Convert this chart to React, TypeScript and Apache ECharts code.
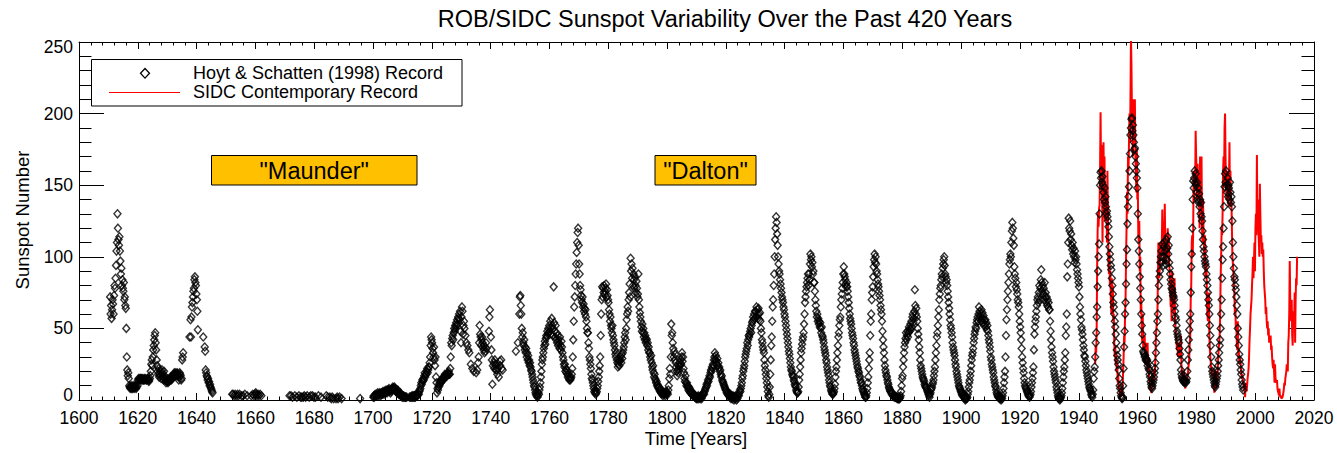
import React, { useEffect, useRef } from "react";
import * as echarts from "echarts";

const N = null;

// Hoyt & Schatten (1998) record: six readings per year, one array per decade (first value = start of decade)
const hs1610 = [
  N, N, N, 72, 60, 66,
  57, 63, 70, 67, 60, 73,
  80, 78, 85, 94, 104, 110,
  130, 120, 112, 108, 114, 104,
  97, 88, 92, 80, 84, 78,
  76, 82, 70, 72, 66, 64,
  50, 30, 21, 17, 19, 15,
  10, 9, 8, 9, 10, 8,
  9, 8, 10, 9, 8, 10,
  9, 10, 8, 9, N, 10,
];
const hs1620 = [
  14, 15, 14, 15, 14, 15,
  15, 14, 15, 14, 15, 14,
  14, 15, 14, 15, N, 14,
  14, 15, 15, 14, 13, 14,
  15, 17, 20, 25, 28, 24,
  30, 35, 38, 42, 45, 47,
  40, 35, 28, 24, 20, 18,
  22, 16, 18, 20, 17, 15,
  18, 21, 19, 16, 14, 20,
  17, 15, 14, 12, 13, 15,
];
const hs1630 = [
  13, 12, 14, 13, 15, 14,
  16, 15, 14, 16, 15, 17,
  17, 18, 19, 18, 17, 19,
  18, 17, 19, 18, 17, 14,
  16, 19, 18, 17, 14, 15,
  28, 30, 33, N, N, N,
  N, N, N, N, N, N,
  N, N, N, 44, N, 56,
  44, 58, 65, 68, 72, 76,
  78, 84, 86, 82, 80, 74,
];
const hs1640 = [
  70, 62, 49, N, N, N,
  N, N, N, N, N, N,
  N, 44, N, N, 37, 34,
  21, 19, 17, 16, 14, 15,
  12, 13, 10, 11, 9, 8,
  7, 6, 5, N, N, N,
];
// Maunder minimum: sparse [year, value] readings
const hsMaunder = [
  [1652.1, 4], [1652.4, 4], [1652.8, 3], [1653.1, 4], [1653.5, 3], [1653.9, 4], [1654.2, 3], [1654.6, 4],
  [1655.3, 3], [1655.8, 3], [1656.4, 4], [1657.2, 3], [1658.6, 3], [1659.1, 4], [1659.5, 3], [1659.8, 4],
  [1660.1, 5], [1660.3, 4], [1660.5, 3], [1660.9, 4], [1661.2, 3], [1661.6, 4], [1662.0, 3],
  [1671.6, 3], [1672.1, 3], [1672.6, 2], [1673.4, 3], [1674.1, 2], [1674.8, 3], [1675.4, 2], [1675.8, 2],
  [1676.3, 2], [1676.6, 3], [1677.1, 2], [1677.6, 3], [1678.3, 2], [1678.8, 3], [1679.4, 3], [1679.9, 2],
  [1680.4, 2], [1681.4, 3], [1682.3, 2], [1684.1, 3], [1684.6, 2], [1685.3, 2], [1685.8, 1], [1686.1, 2],
  [1686.6, 1], [1687.4, 1], [1687.8, 2], [1688.1, 1], [1688.6, 2], [1689.3, 1], [1695.6, 1],
];
const hs1700 = [
  2, 3, 2, 3, 4, 3,
  3, 4, 3, 5, 4, 3,
  4, 5, 4, 3, 5, 4,
  5, 4, 6, 5, 4, 6,
  6, 5, 7, 6, 5, 7,
  6, 7, 8, 6, 7, 5,
  7, 6, 8, 7, 9, 8,
  8, 9, 7, 8, 6, 7,
  6, 5, 7, 6, 4, 5,
  4, 5, 3, 4, 3, 2,
];
const hs1710 = [
  3, 2, 3, 2, N, 2,
  2, N, 2, N, N, N,
  N, N, 2, N, 2, N,
  2, 3, 2, 3, 2, 3,
  2, 3, 2, 4, 3, 3,
  3, 4, 5, 4, 6, 7,
  8, 10, 12, 11, 14, 13,
  15, 14, 17, 19, 16, 18,
  18, 20, 22, 19, 21, 23,
  23, 26, 30, 38, 44, 42,
];
const hs1720 = [
  40, 36, 33, 30, 37, 28,
  24, 30, 16, 12, 5, 8,
  7, 9, 11, 10, 12, 13,
  12, 14, 13, 15, 14, 16,
  15, 16, 18, 17, 16, 18,
  18, 17, 19, 18, 20, 18,
  18, 22, 30, 40, 38, 43,
  45, 42, 47, 50, 48, 52,
  50, 54, 52, 56, 53, 58,
  57, 60, 56, 62, 48, 40,
];
const hs1730 = [
  58, 65, 62, 46, 52, 55,
  50, N, 45, N, 40, N,
  38, N, 35, N, 33, N,
  N, 25, N, N, 22, N,
  N, 20, N, N, N, N,
  19, N, 21, N, 26, 30,
  40, 52, 46, 44, 38, 42,
  44, 40, 37, 35, 38, 33,
  37, 34, 40, 36, N, N,
  N, N, 48, 58, 63, N,
];
const hs1740 = [
  44, 35, 28, 11, 24, N,
  26, 22, 28, 24, 21, 25,
  21, 18, 22, N, 16, N,
  27, 24, N, 28, 22, N,
  21, N, N, N, N, N,
  N, N, N, N, N, N,
  N, N, N, N, N, N,
  N, N, N, N, N, N,
  N, N, N, 34, N, N,
  N, 40, N, N, 60, 72,
];
const hs1750 = [
  73, 66, 60, 50, 44, 47,
  40, 38, 42, 35, 37, 33,
  36, 30, 33, 28, 31, 26,
  28, 24, 26, 23, 21, 20,
  18, 16, 14, 12, 10, 9,
  7, 5, 4, 3, 4, 2,
  3, 5, 4, 7, 9, 12,
  16, 20, 25, 28, 30, 33,
  36, 38, 41, 39, 43, 45,
  44, 48, 46, 50, 47, 52,
];
const hs1760 = [
  48, 55, 50, 46, 57, 52,
  45, 50, 79, 54, 48, 44,
  52, 42, 47, 40, 45, 38,
  42, 40, 36, 44, 38, 35,
  41, 37, 33, 30, 28, 25,
  23, 25, 20, 22, 19, 21,
  18, 16, 18, 15, 14, 16,
  14, 15, 16, 18, 22, 30,
  42, 55, 65, 72, 80, 88,
  95, 103, 110, 117, 120, 108,
];
const hs1770 = [
  95, 88, 80, 77, 73, 70,
  68, 72, 65, 67, 62, 64,
  60, 63, 58, 55, 50, 47,
  47, 40, 36, 30, 28, 25,
  22, 18, 15, 14, 12, 10,
  8, 6, 5, 7, 4, 5,
  6, 8, 10, 13, 16, 20,
  24, 30, 45, 60, 70, 79,
  72, 78, 75, 80, 74, 76,
  78, 81, 72, 77, 73, 70,
];
const hs1780 = [
  68, 63, 60, 55, 58, 52,
  50, 47, 52, 45, 42, 40,
  38, 35, 32, 30, 33, 28,
  26, 23, 25, 28, 24, 27,
  28, 30, 26, 32, 29, 33,
  35, 37, 40, 44, 47, 42,
  50, 56, 60, 65, 62, 70,
  75, 81, 72, 99, 90, 95,
  85, 92, 80, 88, 84, 78,
  86, 80, 75, 83, 78, 72,
];
const hs1790 = [
  74, 88, 70, 65, 61, 58,
  55, 51, 48, 53, 47, 50,
  44, 47, 42, 45, 40, 43,
  42, 38, 40, 35, 37, 33,
  33, 30, 28, 31, 26, 23,
  21, 24, 19, 16, 18, 15,
  14, 12, 13, 10, 11, 9,
  8, 9, 7, 6, 8, 5,
  5, 4, 6, 3, 5, 4,
  4, 5, 3, 6, 4, 5,
];
const hs1800 = [
  5, 4, 7, 10, 15, 22,
  18, 30, 53, 45, 47, 40,
  36, 30, 34, 28, 32, 26,
  23, 20, 17, 21, 19, 24,
  22, 26, 24, 28, 25, 30,
  33, 27, 30, 22, 19, 15,
  13, 17, 12, 10, 12, 9,
  10, 7, 9, 6, 8, 5,
  5, 6, 4, 5, 3, 4,
  3, 4, 2, 3, 2, 1,
];
const hs1810 = [
  2, 1, 2, 3, 1, 2,
  2, 1, 3, 2, 1, 3,
  3, 4, 5, 4, 6, 7,
  8, 9, 11, 10, 12, 14,
  13, 15, 17, 16, 19, 21,
  20, 23, 22, 25, 24, 28,
  30, 33, 28, 31, 27, 25,
  29, 24, 26, 22, 23, 20,
  21, 18, 16, 17, 14, 13,
  12, 11, 10, 9, 8, 7,
];
const hs1820 = [
  7, 5, 6, 4, 5, 3,
  4, 3, 2, 4, 1, 3,
  2, 1, 3, 2, 0, 2,
  1, 3, 2, 0, 2, 1,
  3, 4, 3, 5, 7, 6,
  8, 10, 12, 15, 17, 20,
  22, 24, 27, 30, 32, 34,
  36, 40, 38, 42, 45, 44,
  46, 48, 50, 47, 52, 54,
  55, 58, 56, 60, 57, 62,
];
const hs1830 = [
  62, 58, 65, 60, 63, 57,
  64, 60, 56, 61, 55, 50,
  47, 42, 40, 37, 35, 33,
  28, 24, 21, 18, 15, 12,
  9, 6, 3, 2, 4, 9,
  18, 28, 38, 44, 55, 65,
  70, 80, 88, 100, 112, 120,
  128, 124, 116, 108, 100, 95,
  90, 88, 84, 81, 78, 75,
  72, 70, 68, 65, 63, 60,
];
const hs1840 = [
  58, 55, 52, 49, 46, 43,
  40, 37, 34, 32, 29, 26,
  23, 21, 20, 18, 17, 16,
  14, 13, 11, 10, 9, 7,
  6, 5, 5, 6, 9, 14,
  18, 23, 28, 33, 36, 39,
  42, 44, 47, 53, 60, 68,
  72, 76, 79, 82, 85, 88,
  80, 88, 84, 95, 102, 98,
  100, 93, 96, 88, 90, 82,
];
const hs1850 = [
  82, 76, 70, 66, 62, 58,
  60, 55, 57, 53, 55, 51,
  54, 50, 47, 51, 45, 44,
  42, 40, 37, 35, 33, 31,
  28, 26, 23, 21, 19, 17,
  14, 12, 10, 9, 7, 6,
  5, 4, 4, 5, 6, 8,
  11, 16, 20, 23, 28, 33,
  38, 44, 47, 52, 56, 58,
  65, 70, 74, 78, 82, 88,
];
const hs1860 = [
  93, 88, 86, 84, 81, 79,
  82, 79, 76, 72, 68, 64,
  60, 57, 55, 53, 50, 47,
  45, 43, 40, 38, 35, 33,
  31, 29, 27, 25, 23, 22,
  20, 19, 17, 16, 14, 12,
  12, 10, 8, 7, 6, 5,
  4, 3, 2, 2, 3, 5,
  8, 12, 16, 22, 28, 33,
  45, 55, 60, 70, 75, 79,
];
const hs1870 = [
  86, 93, 98, 102, 96, 100,
  95, 90, 88, 84, 81, 79,
  76, 73, 70, 66, 63, 60,
  55, 48, 42, 37, 33, 28,
  24, 21, 19, 17, 16, 14,
  12, 11, 9, 8, 7, 6,
  6, 5, 4, 5, 3, 3,
  3, 2, 3, 2, 2, 2,
  2, 1, 2, 1, 1, 1,
  1, 2, 3, 6, 10, 15,
];
const hs1880 = [
  17, 23, 28, 33, 37, 40,
  43, 47, 42, 45, 48, 44,
  47, 51, 48, 50, 53, 49,
  55, 51, 58, 60, 54, 57,
  62, 77, 66, 60, 64, 58,
  55, 50, 46, 42, 37, 33,
  28, 24, 22, 20, 18, 16,
  15, 14, 13, 11, 10, 9,
  9, 8, 7, 6, 5, 4,
  3, 2, 4, 5, 7, 8,
];
const hs1890 = [
  9, 11, 12, 14, 17, 20,
  23, 28, 33, 38, 44, 47,
  52, 58, 63, 70, 74, 78,
  80, 84, 88, 86, 92, 95,
  98, 100, 94, 88, 86, 82,
  84, 80, 76, 72, 68, 64,
  60, 56, 52, 50, 47, 44,
  40, 37, 35, 33, 31, 28,
  25, 23, 20, 18, 16, 14,
  12, 10, 9, 8, 7, 6,
];
const hs1900 = [
  5, 4, 3, 5, 3, 2,
  2, 1, 0, 1, 2, 1,
  2, 4, 6, 9, 12, 14,
  17, 20, 24, 28, 31, 33,
  36, 40, 43, 46, 48, 51,
  50, 54, 56, 58, 55, 60,
  65, 62, 58, 60, 55, 63,
  57, 61, 54, 59, 52, 56,
  53, 56, 51, 54, 49, 52,
  48, 45, 42, 40, 37, 34,
];
const hs1910 = [
  30, 28, 25, 23, 21, 19,
  16, 14, 12, 10, 9, 7,
  5, 4, 3, 2, 3, 2,
  1, 2, 1, 0, 2, 1,
  3, 5, 8, 12, 16, 20,
  30, 45, 56, 63, 70, 76,
  82, 88, 95, 98, 102, 100,
  110, 118, 124, 120, 113, 108,
  93, 88, 85, 79, 82, 77,
  74, 70, 68, 65, 60, 55,
];
const hs1920 = [
  51, 47, 42, 36, 30, 26,
  22, 19, 15, 12, 10, 9,
  8, 7, 6, 5, 4, 3,
  3, 2, 3, 4, 6, 9,
  12, 15, 19, 23, 35, 46,
  51, 55, 58, 62, 66, 70,
  72, 68, 75, 80, 70, 78,
  84, 91, 82, 76, 80, 74,
  78, 70, 82, 72, 75, 68,
  72, 66, 70, 65, 68, 63,
];
const hs1930 = [
  63, 55, 48, 42, 37, 33,
  30, 27, 23, 20, 18, 16,
  14, 12, 9, 7, 5, 3,
  2, 1, 2, 0, 1, 2,
  3, 5, 8, 12, 16, 20,
  23, 28, 33, 45, 51, 60,
  86, 95, 110, 127, 120, 118,
  125, 112, 116, 108, 105, 110,
  102, 106, 100, 96, 104, 98,
  100, 95, 91, 88, 85, 82,
];
const hs1940 = [
  79, 72, 65, 60, 56, 51,
  49, 46, 42, 38, 35, 31,
  30, 27, 24, 21, 19, 17,
  15, 13, 11, 9, 8, 7,
  6, 4, 3, 2, 4, 7,
  15, 20, 23, 30, 40, 47,
  58, 65, 79, 90, 100, 109,
  130, 150, 159, 155, 160, 152,
  156, 150, 145, 140, 148, 138,
  142, 135, 130, 132, 128, 125,
];
const hs1950 = [
  121, 114, 107, 102, 98, 94,
  91, 85, 80, 74, 68, 65,
  60, 55, 51, 46, 40, 35,
  31, 28, 25, 21, 15, 10,
  8, 5, 3, 2, 1, 2,
  10, 22, 37, 48, 60, 68,
  81, 95, 105, 123, 135, 142,
  149, 160, 172, 185, 190, 196,
  197, 188, 192, 185, 180, 175,
  176, 170, 165, 160, 155, 148,
];
const hs1960 = [
  130, 112, 104, 95, 86, 78,
  70, 60, 52, 46, 38, 34,
  33, 32, 30, 31, 28, 29,
  27, 28, 24, 26, 22, 21,
  18, 16, 13, 11, 9, 8,
  10, 12, 14, 16, 19, 22,
  26, 33, 40, 47, 55, 60,
  70, 80, 86, 90, 96, 100,
  104, 96, 109, 100, 94, 107,
  110, 100, 104, 95, 112, 98,
];
const hs1970 = [
  106, 114, 102, 108, 96, 92,
  88, 84, 81, 78, 77, 75,
  73, 72, 70, 66, 62, 58,
  56, 52, 48, 46, 44, 42,
  40, 36, 32, 28, 21, 18,
  16, 15, 14, 13, 14, 12,
  13, 14, 12, 13, 15, 20,
  28, 35, 42, 49, 55, 60,
  75, 93, 102, 120, 140, 153,
  148, 155, 160, 152, 158, 150,
];
const hs1980 = [
  145, 152, 140, 148, 138, 144,
  135, 140, 130, 138, 128, 125,
  118, 112, 107, 104, 100, 97,
  95, 93, 88, 84, 80, 75,
  70, 66, 60, 52, 45, 38,
  30, 23, 20, 18, 16, 14,
  12, 10, 9, 11, 13, 15,
  17, 20, 24, 28, 33, 38,
  42, 50, 60, 70, 85, 98,
  107, 120, 135, 149, 158, 152,
];
const hs1990 = [
  160, 150, 145, 155, 142, 150,
  148, 140, 152, 145, 138, 142,
  135, 125, 110, 100, 92, 86,
  84, 80, 77, 72, 66, 60,
  50, 44, 38, 32, 28, 25,
  21, 18, 14, 11, 9, 7,
];
const hsDecades: [number, (number | null)[]][] = [
  [1610, hs1610], [1620, hs1620], [1630, hs1630], [1640, hs1640],
  [1700, hs1700], [1710, hs1710], [1720, hs1720], [1730, hs1730], [1740, hs1740],
  [1750, hs1750], [1760, hs1760], [1770, hs1770], [1780, hs1780], [1790, hs1790],
  [1800, hs1800], [1810, hs1810], [1820, hs1820], [1830, hs1830], [1840, hs1840],
  [1850, hs1850], [1860, hs1860], [1870, hs1870], [1880, hs1880], [1890, hs1890],
  [1900, hs1900], [1910, hs1910], [1920, hs1920], [1930, hs1930], [1940, hs1940],
  [1950, hs1950], [1960, hs1960], [1970, hs1970], [1980, hs1980], [1990, hs1990],
];

// SIDC contemporary record: six readings per year
const sidc1945 = [
  N, N, N, 25, 38, 33,
  47, 93, 118, 131, 121, 134,
  136, 162, 201, 159, 178, 150,
  110, 150, 180, 140, 170, 125,
  150, 125, 145, 110, 160, 130,
];
const sidc1950 = [
  100, 88, 105, 80, 90, 70,
  60, 85, 70, 80, 55, 60,
  40, 30, 38, 25, 32, 20,
  26, 12, 18, 8, 10, 5,
  2, 8, 2, 6, 3, 10,
  20, 30, 45, 40, 60, 70,
  100, 120, 145, 130, 170, 160,
  160, 200, 180, 210, 253, 235,
  200, 190, 170, 210, 180, 190,
  210, 170, 160, 145, 175, 140,
];
const sidc1960 = [
  150, 115, 110, 125, 90, 100,
  60, 70, 50, 40, 60, 35,
  40, 35, 45, 30, 40, 25,
  25, 30, 40, 20, 30, 15,
  12, 10, 8, 6, 5, 12,
  12, 15, 20, 12, 18, 20,
  30, 45, 50, 55, 60, 60,
  110, 95, 85, 95, 110, 100,
  100, 110, 133, 105, 125, 95,
  105, 137, 110, 95, 100, 110,
];
const sidc1970 = [
  100, 120, 105, 115, 95, 90,
  80, 65, 70, 55, 90, 65,
  70, 80, 60, 85, 55, 55,
  45, 40, 35, 40, 30, 40,
  35, 40, 30, 35, 45, 25,
  20, 15, 12, 10, 20, 12,
  10, 8, 14, 15, 12, 15,
  18, 22, 25, 30, 40, 45,
  70, 80, 110, 115, 100, 120,
  160, 140, 160, 150, 188, 170,
];
const sidc1980 = [
  160, 140, 165, 150, 145, 160,
  120, 170, 145, 130, 170, 120,
  110, 140, 120, 110, 95, 115,
  85, 90, 95, 70, 60, 55,
  60, 75, 45, 35, 30, 25,
  20, 18, 22, 15, 18, 17,
  5, 15, 20, 15, 8, 20,
  12, 20, 30, 35, 40, 45,
  60, 85, 100, 120, 115, 130,
  160, 170, 150, 190, 200, 170,
];
const sidc1990 = [
  150, 140, 160, 150, 140, 135,
  150, 180, 140, 160, 135, 140,
  140, 100, 95, 90, 80, 75,
  60, 65, 50, 55, 40, 35,
  55, 30, 35, 25, 30, 28,
  25, 20, 15, 18, 15, 12,
  10, 8, 6, 2, 12, 10,
  6, 10, 15, 18, 22, 30,
  42, 50, 60, 65, 70, 80,
  88, 100, 85, 95, 110, 90,
];
const sidc2000 = [
  120, 130, 115, 171, 125, 140,
  120, 110, 100, 151, 130, 112,
  115, 102, 110, 100, 105, 90,
  80, 75, 70, 60, 65, 55,
  50, 55, 45, 50, 40, 45,
  40, 45, 35, 38, 30, 25,
  22, 28, 20, 12, 25, 15,
  15, 12, 14, 8, 6, 5,
  3, 8, 3, 2, 3, 1,
  1, 2, 3, 5, 8, 12,
];
const sidc2010 = [
  10, 15, 15, 20, 25, 22,
  20, 40, 45, 60, 97, 70,
  65, 55, 70, 45, 38, 60,
  62, 55, 75, 40, 70, 85,
  80, 100,
];
const sidcDecades: [number, (number | null)[]][] = [
  [1945, sidc1945], [1950, sidc1950], [1960, sidc1960], [1970, sidc1970],
  [1980, sidc1980], [1990, sidc1990], [2000, sidc2000], [2010, sidc2010],
];

const xRange = { min: 1600, max: 2020, step: 20 };
const yRange = { min: 0, max: 250, step: 50 };

const TITLE = "ROB/SIDC Sunspot Variability Over the Past 420 Years";
const X_NAME = "Time [Years]";
const Y_NAME = "Sunspot Number";
const LEGEND_HS = "Hoyt & Schatten (1998) Record";
const LEGEND_SIDC = "SIDC Contemporary Record";
const NOTE_MAUNDER = '"Maunder"';
const NOTE_DALTON = '"Dalton"';

const FONT = '"Liberation Sans", Arial, Helvetica, sans-serif';

function expand(decades: [number, (number | null)[]][]) {
  const out: [number, number][] = [];
  for (const [start, vals] of decades) {
    vals.forEach((v, i) => {
      if (v !== null) out.push([+(start + (i + 0.5) / 6).toFixed(3), v]);
    });
  }
  return out;
}

function buildOption() {
  const hsPoints = [...expand(hsDecades.slice(0, 4)), ...(hsMaunder as [number, number][]), ...expand(hsDecades.slice(4))];
  const sidcPoints = expand(sidcDecades);

  const xBase = {
    type: "value" as const,
    min: xRange.min,
    max: xRange.max,
    interval: xRange.step,
    gridIndex: 0,
    axisLine: { show: true, onZero: false, lineStyle: { color: "#000", width: 1 } },
    axisTick: { show: true, inside: true, length: 7, lineStyle: { color: "#000", width: 1 } },
    minorTick: { show: true, splitNumber: 5, length: 3.5, lineStyle: { color: "#000", width: 1 } },
    splitLine: { show: false },
    minorSplitLine: { show: false },
  };
  const yBase = {
    type: "value" as const,
    min: yRange.min,
    max: yRange.max,
    interval: yRange.step,
    gridIndex: 0,
    axisLine: { show: true, onZero: false, lineStyle: { color: "#000", width: 1 } },
    axisTick: { show: true, inside: true, length: 25, lineStyle: { color: "#000", width: 1 } },
    minorTick: { show: true, splitNumber: 5, length: 12.5, lineStyle: { color: "#000", width: 1 } },
    splitLine: { show: false },
    minorSplitLine: { show: false },
  };

  return {
    animation: false,
    backgroundColor: "#fff",
    grid: { left: 79, right: 23, top: 42, bottom: 53, containLabel: false, outerBoundsMode: "none" },
    xAxis: [
      {
        ...xBase,
        position: "bottom",
        axisLabel: {
          show: true,
          color: "#000",
          fontSize: 17.5,
          fontFamily: FONT,
          margin: 9,
          formatter: (v: number) => String(v),
        },
      },
      { ...xBase, position: "top", axisLabel: { show: false } },
    ],
    yAxis: [
      {
        ...yBase,
        position: "left",
        axisLabel: {
          show: true,
          color: "#000",
          fontSize: 17.5,
          fontFamily: FONT,
          margin: 6,
          formatter: (v: number) =>
            v === yRange.min ? `{lo|${v}}` : v === yRange.max ? `{hi|${v}}` : String(v),
          rich: {
            lo: { fontSize: 17.5, fontFamily: FONT, color: "#000", padding: [0, 0, 10, 0] },
            hi: { fontSize: 17.5, fontFamily: FONT, color: "#000", padding: [10, 0, 0, 0] },
          },
        },
      },
      { ...yBase, position: "right", axisLabel: { show: false } },
    ],
    series: [
      {
        name: LEGEND_SIDC,
        type: "line",
        xAxisIndex: 0,
        yAxisIndex: 0,
        data: sidcPoints,
        showSymbol: false,
        symbol: "none",
        lineStyle: { color: "#ff0000", width: 2 },
        silent: true,
        clip: true,
        z: 2,
      },
      {
        name: LEGEND_HS,
        type: "scatter",
        xAxisIndex: 0,
        yAxisIndex: 0,
        data: hsPoints,
        symbol: "diamond",
        symbolSize: [7, 8],
        itemStyle: { color: "rgba(0,0,0,0)", borderColor: "#000", borderWidth: 1.4 },
        silent: true,
        z: 3,
      },
    ],
    graphic: [
      {
        type: "text",
        x: 725,
        y: 19,
        style: { text: TITLE, fill: "#000", font: `23.5px ${FONT}`, textAlign: "center", textVerticalAlign: "middle" },
      },
      {
        type: "text",
        x: 696,
        y: 438,
        style: { text: X_NAME, fill: "#000", font: `18.5px ${FONT}`, textAlign: "center", textVerticalAlign: "middle" },
      },
      {
        type: "text",
        x: 22,
        y: 220,
        rotation: Math.PI / 2,
        style: { text: Y_NAME, fill: "#000", font: `18.5px ${FONT}`, textAlign: "center", textVerticalAlign: "middle" },
      },
      {
        type: "rect",
        shape: { x: 91.5, y: 59.5, width: 370.5, height: 46.5 },
        style: { fill: "#fff", stroke: "#000", lineWidth: 1 },
        z: 10,
      },
      {
        type: "polygon",
        shape: { points: [[145, 68.5], [149.5, 73.3], [145, 78.1], [140.5, 73.3]] },
        style: { fill: "none", stroke: "#000", lineWidth: 1.3 },
        z: 11,
      },
      {
        type: "line",
        shape: { x1: 109, y1: 92.5, x2: 180, y2: 92.5 },
        style: { stroke: "#ff0000", lineWidth: 1 },
        z: 11,
      },
      {
        type: "text",
        x: 193,
        y: 72.5,
        z: 11,
        style: {
          text: LEGEND_HS, fill: "#000", font: `18px ${FONT}`, lineHeight: 17,
          textAlign: "left", textVerticalAlign: "middle",
        },
      },
      {
        type: "text",
        x: 193,
        y: 91.5,
        z: 11,
        style: {
          text: LEGEND_SIDC, fill: "#000", font: `18px ${FONT}`, lineHeight: 17,
          textAlign: "left", textVerticalAlign: "middle",
        },
      },
      {
        type: "rect",
        shape: { x: 211.5, y: 155.5, width: 205.5, height: 29.5 },
        style: { fill: "#ffc000", stroke: "#000", lineWidth: 1 },
        z: 10,
      },
      {
        type: "text",
        x: 314.2,
        y: 170.5,
        z: 11,
        style: { text: NOTE_MAUNDER, fill: "#000", font: `23.5px ${FONT}`, textAlign: "center", textVerticalAlign: "middle" },
      },
      {
        type: "rect",
        shape: { x: 655, y: 155.5, width: 101, height: 29.5 },
        style: { fill: "#ffc000", stroke: "#000", lineWidth: 1 },
        z: 10,
      },
      {
        type: "text",
        x: 705.5,
        y: 170.5,
        z: 11,
        style: { text: NOTE_DALTON, fill: "#000", font: `23.5px ${FONT}`, textAlign: "center", textVerticalAlign: "middle" },
      },
    ],
  };
}

export default function App() {
  const ref = useRef<HTMLDivElement>(null);
  useEffect(() => {
    if (!ref.current) return;
    const chart = echarts.init(ref.current, null, { renderer: "svg" });
    chart.setOption(buildOption() as any);
    return () => chart.dispose();
  }, []);
  return (
    <div
      ref={ref}
      style={{ position: "fixed", left: 0, top: 0, width: 1337, height: 453, background: "#fff" }}
    />
  );
}
